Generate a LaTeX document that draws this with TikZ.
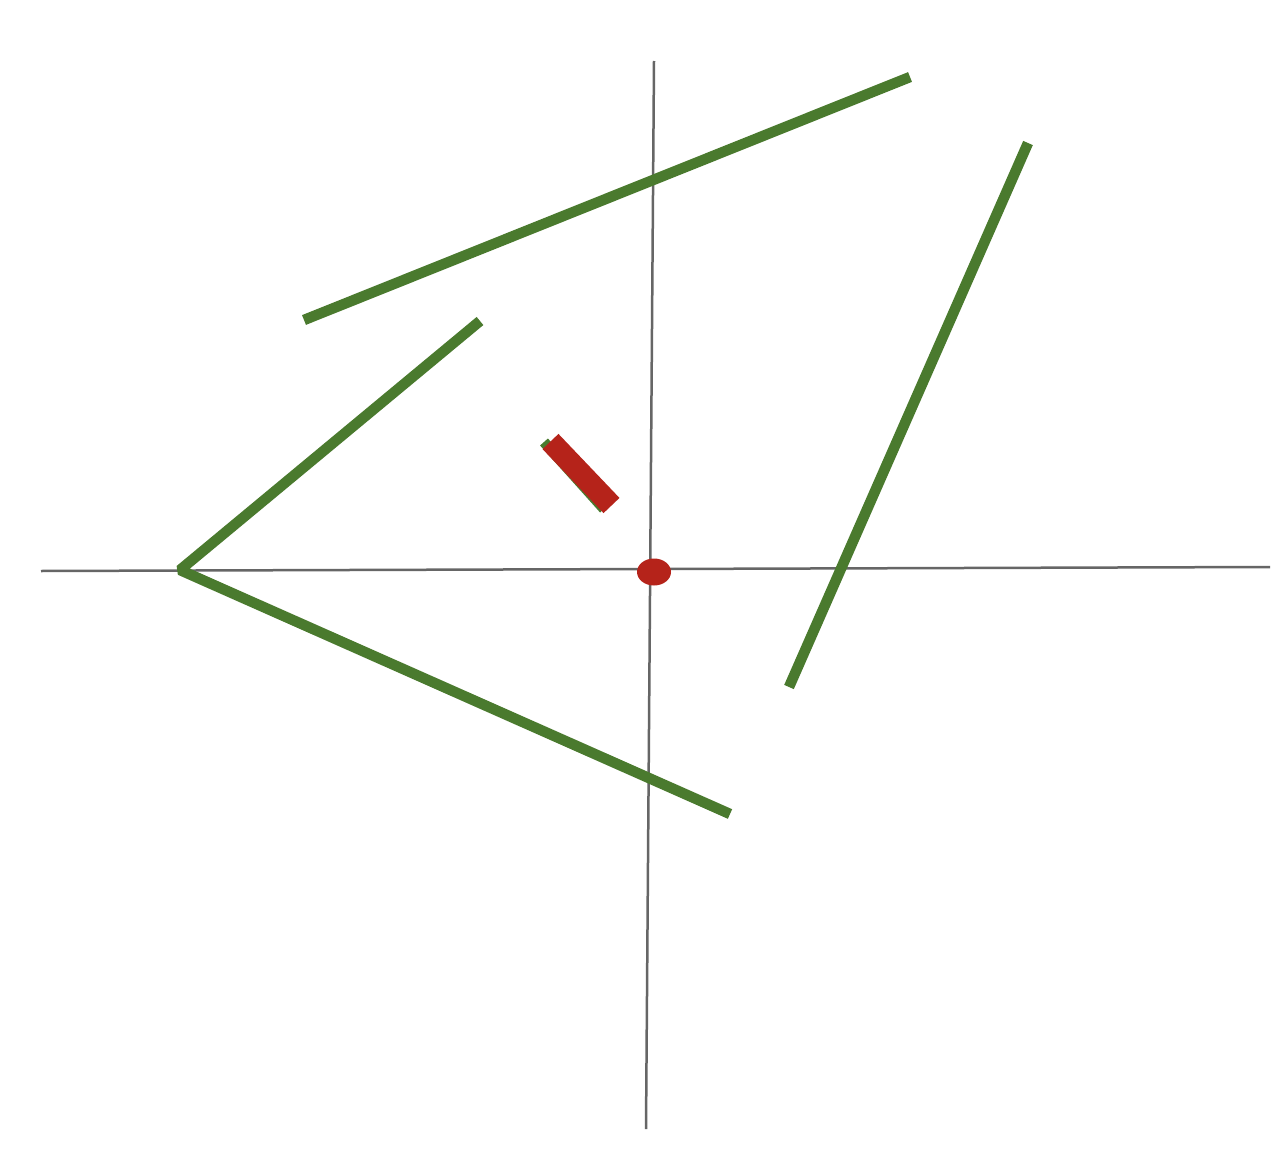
\documentclass[tikz,border=0pt]{standalone}
\definecolor{axisgray}{HTML}{666666}
\definecolor{lgreen}{HTML}{4A7A2E}
\definecolor{lred}{HTML}{B5231A}
\begin{document}
\begin{tikzpicture}[x=1pt,y=-1pt,
  axis/.style={draw=axisgray,line width=2.5pt},
  seg/.style={draw=lgreen,line width=10.5pt,line cap=butt,line join=bevel},
  redseg/.style={draw=lred,line width=22pt,line cap=butt}]
\useasboundingbox[fill=white] (0,0) rectangle (1286,1164);
% axes
\coordinate (xl) at (41,571);
\coordinate (xr) at (1270,567);
\coordinate (yt) at (654,61);
\coordinate (yb) at (646,1129);
\draw[axis] (xl) -- (xr);
\draw[axis] (yt) -- (yb);
% green segments
\coordinate (a1) at (304,320);
\coordinate (a2) at (910,77);
\coordinate (b1) at (480,321);
\coordinate (b2) at (180,570);
\coordinate (b3) at (730,814);
\coordinate (c1) at (1028,143);
\coordinate (c2) at (789,687);
\draw[seg] (a1) -- (a2);
\draw[seg] (b1) -- (b2) -- (b3);
\draw[seg] (c1) -- (c2);
% small segment with red overlay
\coordinate (g1) at (544,442);
\coordinate (g2) at (604,509);
\coordinate (r1) at (550.5,441.5);
\coordinate (r2) at (611.5,505.5);
\draw[seg] (g1) -- (g2);
\draw[redseg] (r1) -- (r2);
% origin dot
\fill[lred] (654,572) ellipse [x radius=17, y radius=13.5];
\end{tikzpicture}
\end{document}
